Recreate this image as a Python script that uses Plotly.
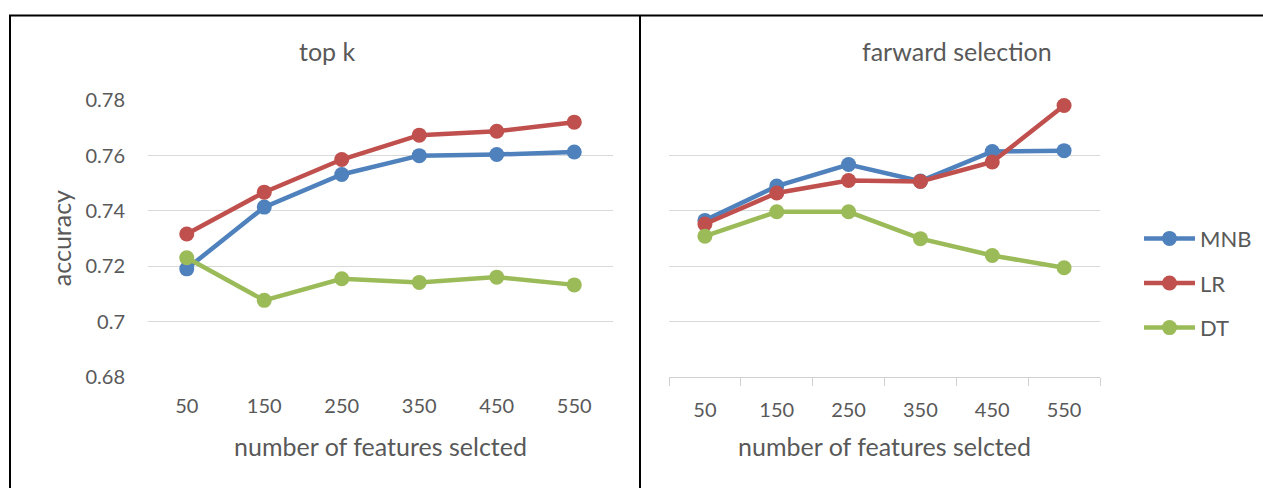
import plotly.graph_objects as go

categories = ["50", "150", "250", "350", "450", "550"]

topk_mnb = [0.7191, 0.7414, 0.7532, 0.7600, 0.7604, 0.7613]
topk_lr = [0.7317, 0.7468, 0.7586, 0.7674, 0.7688, 0.7721]
topk_dt = [0.7231, 0.7077, 0.7155, 0.7142, 0.7161, 0.7133]

fwd_mnb = [0.7366, 0.7490, 0.7568, 0.7508, 0.7615, 0.7618]
fwd_lr = [0.7353, 0.7465, 0.7510, 0.7507, 0.7577, 0.7781]
fwd_dt = [0.7309, 0.7397, 0.7397, 0.7300, 0.7239, 0.7195]

y_ticks = [0.68, 0.70, 0.72, 0.74, 0.76, 0.78]
y_tick_labels = ["0.68", "0.7", "0.72", "0.74", "0.76", "0.78"]

series_names = ["MNB", "LR", "DT"]
colors = ["#4F81BD", "#C0504D", "#9BBB59"]

W, H = 1263, 500
FONT = "Lato"
GRAY = "#595959"

# observed mapping of page rows to picture rows
Y0, YS = 11.6, 0.953

fig = go.Figure()

for vals, name, col in zip([topk_mnb, topk_lr, topk_dt], series_names, colors):
    fig.add_trace(go.Scatter(x=categories, y=vals, name=name, mode="lines+markers",
                             line=dict(color=col, width=4.5), marker=dict(color=col, size=15),
                             cliponaxis=False, xaxis="x", yaxis="y", showlegend=False))
for vals, name, col in zip([fwd_mnb, fwd_lr, fwd_dt], series_names, colors):
    fig.add_trace(go.Scatter(x=categories, y=vals, name=name, mode="lines+markers",
                             line=dict(color=col, width=4.5), marker=dict(color=col, size=15),
                             cliponaxis=False, xaxis="x2", yaxis="y2", showlegend=True,
                             legendgroup=name))

def px(x):
    return x / W

def py(y):
    return 1 - ((y - Y0) / YS) / H

ydom = [py(376), py(99)]
common_x = dict(type="category", range=[-0.5, 5.5], showgrid=False, zeroline=False,
                tickfont=dict(family=FONT, size=20, color=GRAY), ticklabelstandoff=15)
common_y = dict(range=[0.68, 0.78], tickvals=y_ticks, ticktext=y_tick_labels,
                showgrid=True, gridcolor="#D9D9D9", gridwidth=1, zeroline=False,
                tickfont=dict(family=FONT, size=20, color=GRAY))

fig.update_layout(
    width=W, height=H,
    margin=dict(l=0, r=0, t=0, b=0),
    paper_bgcolor="white", plot_bgcolor="white",
    xaxis=dict(domain=[px(148), px(613)], anchor="y", showline=False, ticks="", **common_x),
    yaxis=dict(domain=ydom, anchor="x", showticklabels=True, ticklabelstandoff=22, **common_y),
    xaxis2=dict(domain=[px(669), px(1100)], anchor="y2", showline=True, linecolor="#D0D0D0",
                linewidth=1, ticks="outside", tickson="boundaries", ticklen=8, tickcolor="#D0D0D0",
                **common_x),
    yaxis2=dict(domain=ydom, anchor="x2", showticklabels=False, **common_y),
    legend=dict(x=px(1139), y=py(282), xanchor="left", yanchor="middle",
                font=dict(family=FONT, size=22, color=GRAY), tracegroupgap=13,
                itemwidth=51, bgcolor="rgba(0,0,0,0)"),
    showlegend=True,
)

annotations = [
    dict(text="top k", x=px(327), y=py(50)),
    dict(text="farward selection", x=px(957), y=py(50)),
    dict(text="number of features selcted", x=px(380), y=py(445)),
    dict(text="number of features selcted", x=px(884), y=py(445)),
]
for a in annotations:
    fig.add_annotation(text=a["text"], x=a["x"], y=a["y"], xref="paper", yref="paper",
                       xanchor="center", yanchor="middle", showarrow=False,
                       font=dict(family=FONT, size=25, color=GRAY))
fig.add_annotation(text="accuracy", x=px(61), y=py(237), xref="paper", yref="paper",
                   xanchor="center", yanchor="middle", showarrow=False, textangle=-90,
                   font=dict(family=FONT, size=25, color=GRAY))

# black frame lines
fig.add_shape(type="line", xref="paper", yref="paper", x0=px(9), x1=1, y0=py(14), y1=py(14),
              line=dict(color="black", width=2))
fig.add_shape(type="line", xref="paper", yref="paper", x0=px(10), x1=px(10), y0=py(14), y1=0,
              line=dict(color="black", width=2))
fig.add_shape(type="line", xref="paper", yref="paper", x0=px(640), x1=px(640), y0=py(14), y1=0,
              line=dict(color="black", width=2))

fig.write_html(
    "out.html",
    config={"displayModeBar": False},
    post_script="document.documentElement.style.margin='0';document.body.style.margin='0';"
                "document.documentElement.style.overflow='hidden';document.body.style.overflow='hidden';",
)
